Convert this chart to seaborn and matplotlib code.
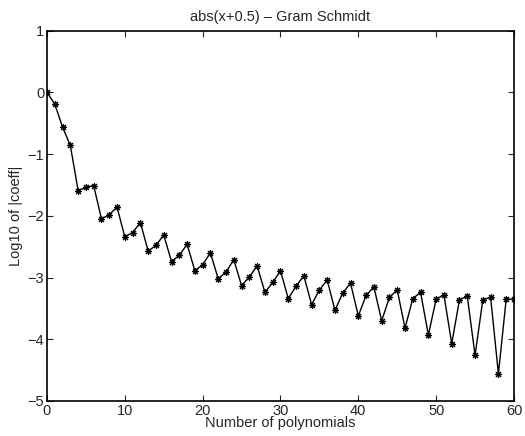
import matplotlib
matplotlib.use("Agg")
import matplotlib.pyplot as plt
import seaborn as sns
import pandas as pd

n_poly = list(range(61))
log_coeff = [0.0, -0.19, -0.56, -0.86, -1.59, -1.54, -1.51, -2.05, -1.98, -1.86,
             -2.34, -2.27, -2.11, -2.57, -2.48, -2.31, -2.74, -2.64, -2.46, -2.89,
             -2.79, -2.60, -3.02, -2.91, -2.71, -3.13, -2.99, -2.81, -3.24, -3.08,
             -2.89, -3.34, -3.14, -2.97, -3.44, -3.20, -3.04, -3.53, -3.25, -3.09,
             -3.62, -3.29, -3.15, -3.70, -3.32, -3.20, -3.82, -3.34, -3.24, -3.93,
             -3.35, -3.28, -4.07, -3.36, -3.30, -4.26, -3.36, -3.32, -4.56, -3.35,
             -3.35]
xticks = [0, 10, 20, 30, 40, 50, 60]
yticks = [-5, -4, -3, -2, -1, 0, 1]

sns.set_style("ticks")
plt.rcParams['font.family'] = ['Liberation Sans', 'DejaVu Sans']

df = pd.DataFrame({"n": n_poly, "v": log_coeff})
fig = plt.figure(figsize=(5.25, 4.36), dpi=100)
ax = fig.add_axes([0.0895, 0.0803, 0.8895, 0.8493])
sns.lineplot(data=df, x="n", y="v", ax=ax, color="black", linewidth=1.0,
             marker=(8, 2, 0), markersize=5, markeredgecolor="black",
             markeredgewidth=0.8)
ax.set_xlim(0, 60)
ax.set_ylim(-5, 1)
ax.set_xticks(xticks)
ax.set_yticks(yticks)
ax.set_yticklabels(["\u22125", "\u22124", "\u22123", "\u22122", "\u22121", "0", "1"])
ax.tick_params(direction="in", top=True, right=True, labelsize=10.5, length=4, width=0.8, pad=2)
for s in ax.spines.values():
    s.set_visible(True)
    s.set_linewidth(1.2)
    s.set_color("black")
ax.set_xlabel("Number of polynomials", fontsize=10.5, labelpad=-1)
ax.set_ylabel("Log10 of |coeff|", fontsize=10.5, labelpad=3)
ax.set_title("abs(x+0.5) \u2013 Gram Schmidt", fontsize=10.5, pad=7)
fig.savefig("out.png", dpi=100)
